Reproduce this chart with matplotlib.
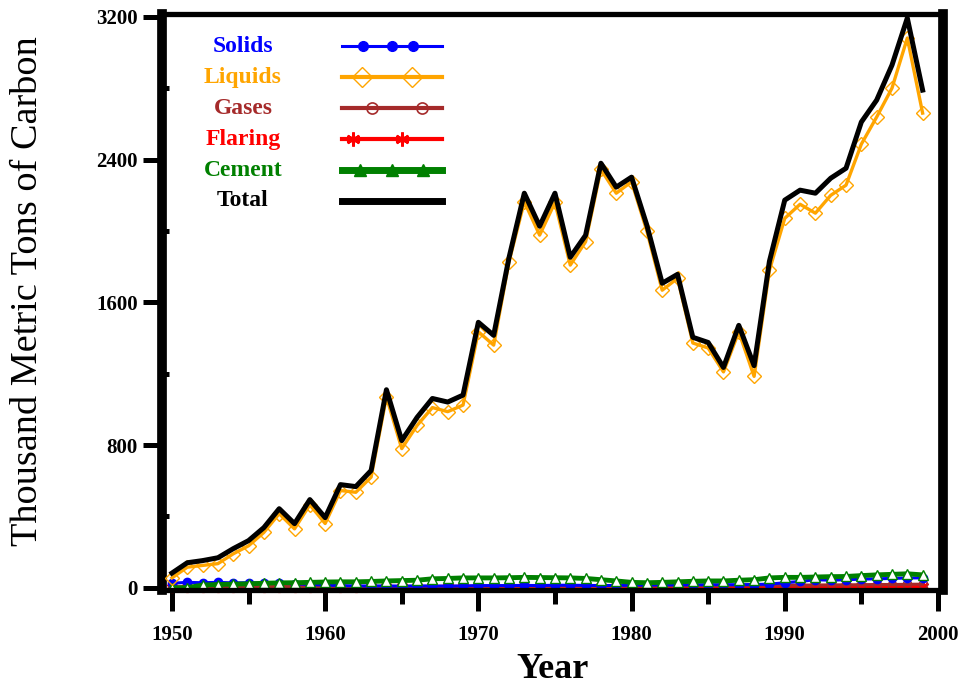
import numpy as np
import matplotlib.pyplot as plt
from matplotlib.lines import Line2D

years = list(range(1950, 2000))

total = [82, 140, 152, 168, 219, 264, 337, 443, 359, 494,
         393, 578, 567, 657, 1110, 825, 955, 1061, 1041, 1080,
         1488, 1415, 1850, 2212, 2027, 2212, 1853, 1976, 2380, 2246,
         2302, 2032, 1707, 1757, 1404, 1375, 1235, 1471, 1245, 1830,
         2173, 2229, 2212, 2296, 2352, 2611, 2734, 2930, 3194, 2790]

liquids = [55, 115, 125, 135, 190, 235, 310, 415, 330, 465,
           360, 545, 535, 620, 1070, 780, 910, 1010, 987, 1024,
           1435, 1360, 1827, 2164, 1977, 2160, 1809, 1940, 2345, 2212,
           2276, 2000, 1668, 1735, 1372, 1344, 1210, 1435, 1185, 1780,
           2071, 2150, 2100, 2200, 2257, 2487, 2639, 2801, 3082, 2661]

solids = [25, 30, 28, 30, 27, 28, 26, 25, 22, 18,
          15, 12, 10, 10, 10, 9, 10, 10, 9, 10,
          12, 12, 12, 13, 12, 14, 14, 13, 12, 13,
          14, 15, 15, 16, 16, 17, 17, 17, 18, 20,
          28, 35, 45, 42, 45, 48, 50, 52, 55, 55]

gases = [3, 3, 3, 4, 4, 4, 5, 5, 5, 5,
         5, 6, 6, 6, 6, 7, 7, 7, 8, 8,
         8, 8, 9, 9, 9, 9, 10, 10, 10, 10,
         10, 11, 11, 11, 12, 12, 12, 13, 13, 14,
         14, 15, 15, 16, 16, 17, 18, 18, 19, 20]

flaring = [5, 5, 5, 5, 5, 5, 5, 6, 6, 6,
           6, 6, 6, 7, 7, 7, 7, 7, 7, 7,
           8, 8, 8, 8, 8, 8, 8, 8, 8, 8,
           7, 7, 7, 7, 7, 7, 7, 7, 7, 7,
           7, 7, 7, 7, 7, 7, 7, 7, 7, 7]

cement = [0, 0, 15, 18, 20, 22, 25, 27, 28, 30,
          32, 33, 33, 35, 38, 40, 42, 50, 52, 55,
          55, 55, 56, 58, 57, 56, 55, 52, 45, 38,
          30, 28, 30, 33, 36, 38, 38, 42, 45, 55,
          58, 58, 60, 62, 63, 68, 72, 75, 78, 72]

yticks = [0, 800, 1600, 2400, 3200]
xticks = [1950, 1960, 1970, 1980, 1990, 2000]

W, H = 961, 688
fig = plt.figure(figsize=(W / 100, H / 100), dpi=100)
ax = fig.add_axes([162 / W, 1 - 589.5 / H, (943 - 162) / W, (589.5 - 14.3) / H])

ax.plot(years, flaring, color='red', lw=2.2, marker=(6, 2, 0), ms=8, mew=1.8, clip_on=False, zorder=2)
ax.plot(years, gases, color='#a52a2a', lw=2.2, marker='o', ms=6, mfc='none', mew=1, zorder=2)
ax.plot(years, solids, color='blue', lw=2.2, marker='o', ms=6, zorder=2)
ax.plot(years, cement, color='green', lw=3.5, marker='^', ms=7, mfc='white', mew=1, zorder=2)
ax.plot(years, liquids, color='orange', lw=2.4, marker='D', ms=7, mfc='none', mew=1, zorder=3)
ax.plot(years, total, color='black', lw=3.6, zorder=4)

ax.set_xlim(1949.35, 2000.33)
ax.set_ylim(-10, 3215)
ax.set_xticks(xticks)
ax.set_xticks([1955, 1965, 1975, 1985, 1995], minor=True)
ax.set_yticks(yticks)
ax.set_yticks([400, 1200, 2000, 2800], minor=True)

for side in ['left', 'right']:
    ax.spines[side].set_linewidth(7)
for side in ['top', 'bottom']:
    ax.spines[side].set_linewidth(3.8)

tick_font = dict(family='Liberation Serif', size=15, weight='bold')
ax.tick_params(axis='x', which='major', length=15, width=3.6, direction='out', pad=10.5)
ax.tick_params(axis='x', which='minor', length=10, width=3.6, direction='out')
ax.tick_params(axis='y', which='major', length=14, width=3.6, direction='out', pad=3.6)
ax.tick_params(axis='y', which='minor', length=5, width=3.6, direction='in')
for lab in ax.get_xticklabels() + ax.get_yticklabels():
    lab.set_fontproperties(tick_font)

ax.set_xlabel('Year', family='Liberation Serif', size=26, weight='bold', labelpad=6)
ax.set_ylabel('Thousand Metric Tons of Carbon', family='Liberation Serif', size=27.5)
ax.yaxis.set_label_coords(-0.1498, 0.519)

# legend drawn by hand: label column on the left, sample line on the right
def px(x, y):
    return x / W, 1 - y / H

legend_rows = [
    ('Solids', 'blue', 46, dict(lw=2.2, marker='o', ms=7), [363, 392, 413]),
    ('Liquids', 'orange', 77, dict(lw=3, marker='D', ms=10, mfc='none', mew=1), [362, 412]),
    ('Gases', '#a52a2a', 108, dict(lw=3, marker='o', ms=8, mfc='none', mew=1.2), [372, 422]),
    ('Flaring', 'red', 139, dict(lw=3, marker=(6, 2, 0), ms=10, mew=2), [353, 402]),
    ('Cement', 'green', 170, dict(lw=5, marker='^', ms=9), [360, 392, 423]),
    ('Total', 'black', 201, dict(lw=5), []),
]
for name, col, y, style, mx in legend_rows:
    fig.text(*px(243, y), name, color=col, ha='center', va='center',
             family='Liberation Serif', size=17, weight='bold')
    x0, y0 = px(342, y)
    x1, _ = px(442, y)
    fig.add_artist(Line2D([x0, x1], [y0, y0], color=col, lw=style['lw'], transform=fig.transFigure))
    if mx:
        mst = {k: v for k, v in style.items() if k != 'lw'}
        fig.add_artist(Line2D([px(m, y)[0] for m in mx], [y0] * len(mx), color=col, ls='none',
                              transform=fig.transFigure, **mst))

fig.savefig('out.png', dpi=100)
